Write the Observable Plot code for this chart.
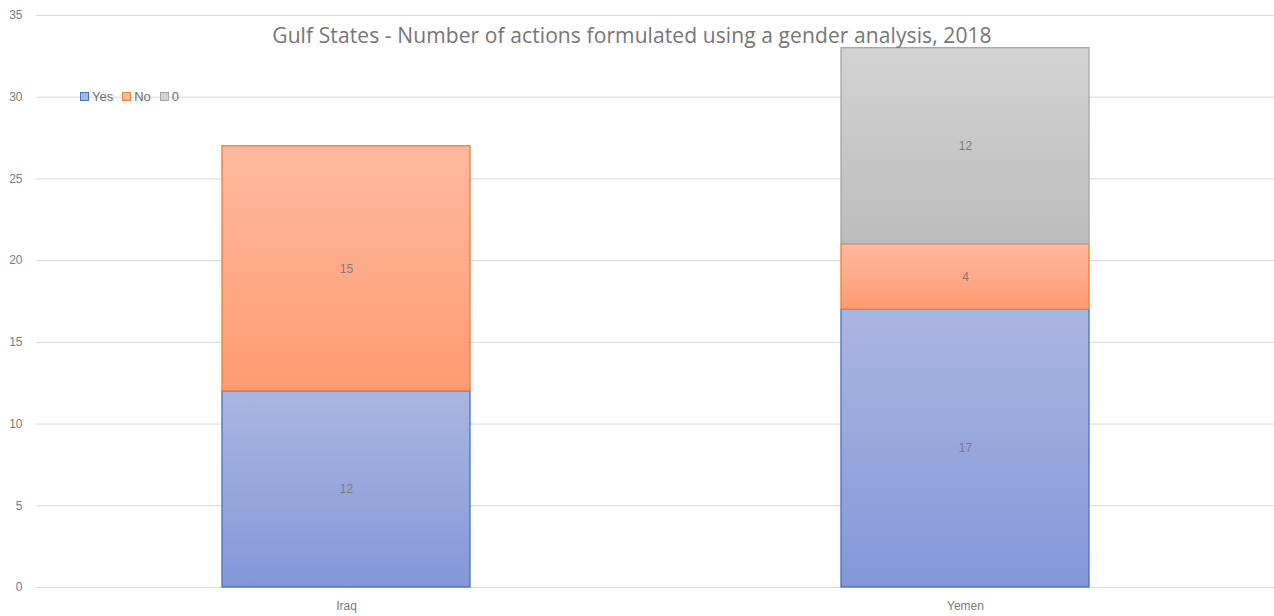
<!DOCTYPE html>
<html>
<head>
<meta charset="utf-8">
<script src="https://cdn.jsdelivr.net/npm/d3@7"></script>
<script src="https://cdn.jsdelivr.net/npm/@observablehq/plot@0.6"></script>
<style>
  html, body { margin: 0; padding: 0; background: #fff; }
  #wrap { position: relative; width: 1274px; height: 616px; font-family: "Liberation Sans", "DejaVu Sans", sans-serif; }
  #title { position: absolute; left: 632px; top: 21px; transform: translateX(-50%); white-space: nowrap;
           font-size: 21px; color: #767676; font-family: "Open Sans", "Liberation Sans", sans-serif; letter-spacing: 0.1px; }
  #legend { position: absolute; left: 80px; top: 89px; display: flex; gap: 9px; font-size: 13px; color: #6e6e6e; }
  #legend .item { display: flex; align-items: center; gap: 3px; }
  #legend .sw { width: 9px; height: 9px; box-sizing: border-box; border: 1px solid; }
</style>
</head>
<body>
<div id="wrap">
  <div id="chart"></div>
  <div id="title"></div>
  <div id="legend"></div>
</div>
<script>
const titleText = "Gulf States - Number of actions formulated using a gender analysis, 2018";
const categories = ["Iraq", "Yemen"];
const seriesNames = ["Yes", "No", "0"];
const yesValues = [12, 17];
const noValues = [15, 4];
const zeroValues = [0, 12];
const yTicks = [0, 5, 10, 15, 20, 25, 30, 35];

const seriesValues = [yesValues, noValues, zeroValues];
const seriesStroke = ["#4472c4", "#ed7d31", "#a5a5a5"];
const seriesTop = ["#aab6e2", "#ffb99f", "#d3d3d3"];
const seriesBottom = ["#8497d8", "#ff9b72", "#bcbcbc"];
const gradIds = ["gYes", "gNo", "gZero"];

// stacked rows
const rows = [];
categories.forEach((c, i) => {
  let base = 0;
  seriesNames.forEach((s, k) => {
    const v = seriesValues[k][i];
    if (v > 0) rows.push({category: c, series: s, k, value: v, y1: base, y2: base + v});
    base += v;
  });
});

const segMarks = seriesNames.map((s, k) =>
  Plot.barY(rows.filter(d => d.k === k), {
    x: "category", y1: "y1", y2: "y2",
    fill: `url(#${gradIds[k]})`, stroke: seriesStroke[k], strokeWidth: 1.3
  })
);

const chart = Plot.plot({
  width: 1274, height: 616,
  marginLeft: 36, marginRight: 0, marginTop: 15, marginBottom: 29,
  style: {fontFamily: "'Liberation Sans', 'DejaVu Sans', sans-serif", fontSize: "12px", background: "#fff"},
  x: {domain: categories, paddingInner: 0.6, paddingOuter: 0.3, label: null},
  y: {domain: [0, 35], label: null},
  marks: [
    Plot.gridY(yTicks, {stroke: "#d9d9d9", strokeOpacity: 1, strokeWidth: 1}),
    ...segMarks,
    Plot.text(rows, {x: "category", y: d => (d.y1 + d.y2) / 2, text: d => String(d.value), fill: "#7b7b7b", fontSize: 12}),
    Plot.axisY(yTicks, {tickSize: 0, tickPadding: 14, fill: "#7b7b7b", fontSize: 12, label: null}),
    Plot.axisX({tickSize: 0, tickPadding: 14, fill: "#7b7b7b", fontSize: 12, label: null})
  ]
});

// gradients
const ns = "http://www.w3.org/2000/svg";
const defs = document.createElementNS(ns, "defs");
gradIds.forEach((id, k) => {
  const g = document.createElementNS(ns, "linearGradient");
  g.setAttribute("id", id);
  g.setAttribute("x1", "0"); g.setAttribute("y1", "0");
  g.setAttribute("x2", "0"); g.setAttribute("y2", "1");
  [["0%", seriesTop[k]], ["100%", seriesBottom[k]]].forEach(([o, c]) => {
    const st = document.createElementNS(ns, "stop");
    st.setAttribute("offset", o); st.setAttribute("stop-color", c);
    g.appendChild(st);
  });
  defs.appendChild(g);
});
chart.insertBefore(defs, chart.firstChild);
document.getElementById("chart").appendChild(chart);

document.getElementById("title").textContent = titleText;
const legend = document.getElementById("legend");
seriesNames.forEach((s, k) => {
  const item = document.createElement("div");
  item.className = "item";
  const sw = document.createElement("div");
  sw.className = "sw";
  sw.style.background = seriesTop[k];
  sw.style.borderColor = seriesStroke[k];
  const lab = document.createElement("span");
  lab.textContent = s;
  item.appendChild(sw); item.appendChild(lab);
  legend.appendChild(item);
});
</script>
</body>
</html>
